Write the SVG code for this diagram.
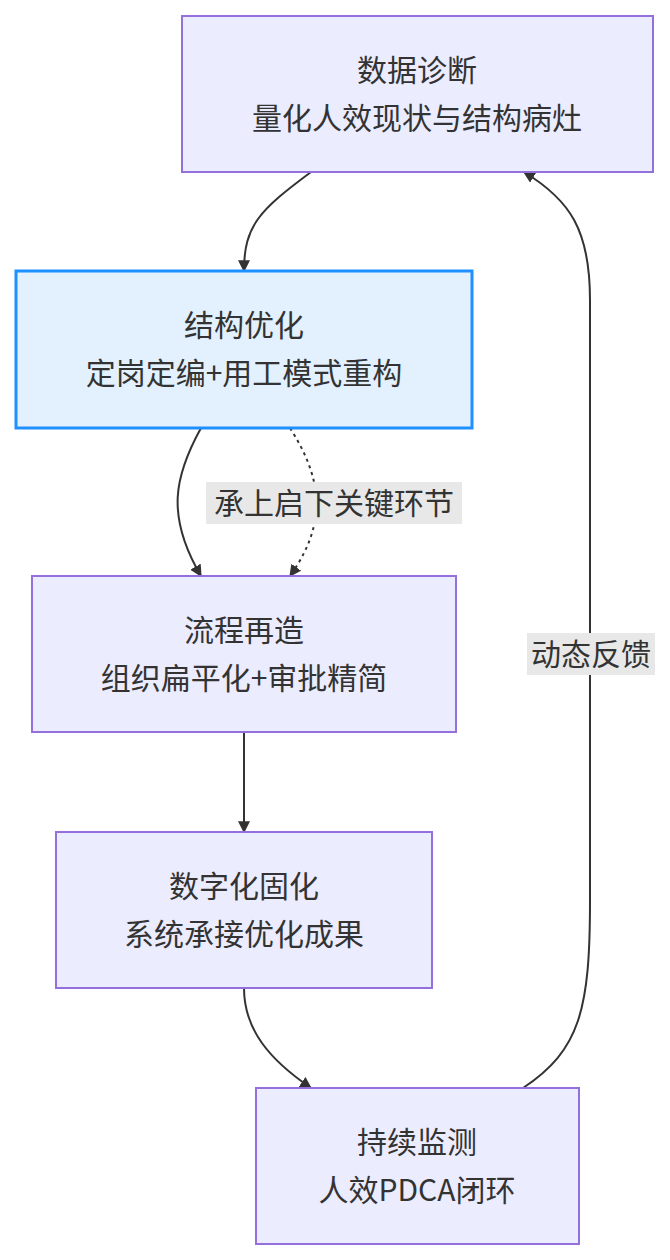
<svg xmlns="http://www.w3.org/2000/svg" width="670" height="1260" viewBox="0 0 670 1260">
<style>
.n{fill:#ececff;stroke:#9370db;stroke-width:2}
.h{fill:#e3f0fd;stroke:#1e90ff;stroke-width:3}
text{font-family:"Noto Sans CJK SC","Liberation Sans",sans-serif;font-size:30px;fill:#333;text-anchor:middle}
.e{fill:none;stroke:#333;stroke-width:2}
.lb{fill:#e8e8e8}
</style>
<defs><marker id="a" viewBox="0 0 10 10" refX="9" refY="5" markerWidth="6" markerHeight="6" orient="auto"><path d="M0,0L10,5L0,10z" fill="#333"/></marker></defs>
<rect width="670" height="1260" fill="#fff"/>
<g id="edges">
<path class="e" d="M311,172 C260,210 244,225 244,271" marker-end="url(#a)"/>
<path class="e" d="M201,428 C175,475 165,515 201,576" marker-end="url(#a)"/>
<path class="e" d="M290,428 C320,475 330,520 290,576" stroke-dasharray="3,4" marker-end="url(#a)"/>
<path class="e" d="M244,732 L244,832" marker-end="url(#a)"/>
<path class="e" d="M244,988 C244,1030 270,1060 311,1088" marker-end="url(#a)"/>
<path class="e" d="M523,1088 C580,1050 590,1010 590,900 L590,300 C590,230 570,200 524,172" marker-end="url(#a)"/>
<rect class="lb" x="206" y="482" width="256" height="42"/>
<text x="334" y="514">承上启下关键环节</text>
<rect class="lb" x="527" y="633" width="128" height="42"/>
<text x="591" y="665">动态反馈</text>
</g>
<g id="n1"><rect class="n" x="182" y="16" width="471" height="156"/><text x="417" y="81">数据诊断</text><text x="417" y="129">量化人效现状与结构病灶</text></g>
<g id="n2"><rect class="h" x="16" y="271" width="456" height="157"/><text x="244" y="336">结构优化</text><text x="244" y="384">定岗定编+用工模式重构</text></g>
<g id="n3"><rect class="n" x="32" y="576" width="424" height="156"/><text x="244" y="641">流程再造</text><text x="244" y="689">组织扁平化+审批精简</text></g>
<g id="n4"><rect class="n" x="56" y="832" width="376" height="156"/><text x="244" y="897">数字化固化</text><text x="244" y="945">系统承接优化成果</text></g>
<g id="n5"><rect class="n" x="256" y="1088" width="323" height="156"/><text x="417" y="1153">持续监测</text><text x="417" y="1201">人效PDCA闭环</text></g>
</svg>
